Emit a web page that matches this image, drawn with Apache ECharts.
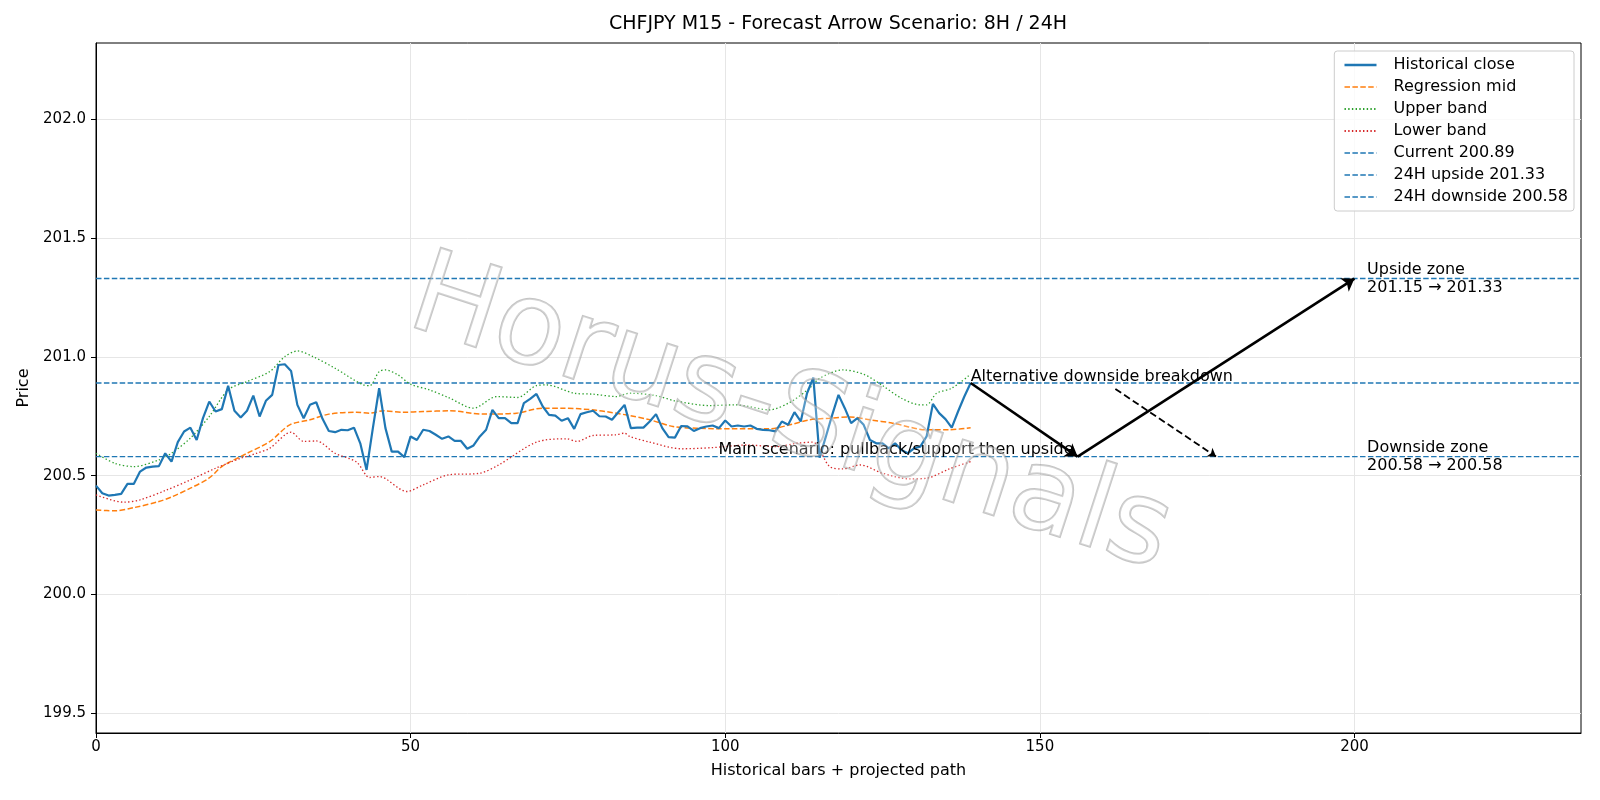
<!DOCTYPE html>
<html>
<head>
<meta charset="utf-8">
<script src="https://cdn.jsdelivr.net/npm/echarts@6/dist/echarts.min.js"></script>
<style>
  html, body { margin: 0; padding: 0; background: #fff; }
  #main { width: 1600px; height: 800px; }
</style>
</head>
<body>
<div id="main"></div>
<script>
// 历史收盘价 (bar 0..139)
const closeVals = [
  200.458, 200.426, 200.416, 200.419, 200.423, 200.465, 200.465, 200.517, 200.534, 200.538,
  200.540, 200.594, 200.559, 200.641, 200.686, 200.702, 200.650, 200.742, 200.812, 200.770,
  200.780, 200.878, 200.773, 200.745, 200.773, 200.837, 200.749, 200.815, 200.840, 200.966,
  200.969, 200.941, 200.798, 200.742, 200.798, 200.809, 200.739, 200.688, 200.683, 200.693,
  200.691, 200.702, 200.636, 200.524, 200.700, 200.868, 200.700, 200.601, 200.601, 200.578,
  200.665, 200.650, 200.693, 200.688, 200.672, 200.655, 200.665, 200.646, 200.646, 200.613,
  200.627, 200.665, 200.693, 200.777, 200.742, 200.742, 200.721, 200.721, 200.805, 200.823,
  200.844, 200.791, 200.756, 200.753, 200.731, 200.742, 200.697, 200.759, 200.767, 200.773,
  200.750, 200.749, 200.735, 200.767, 200.798, 200.700, 200.702, 200.702, 200.728, 200.759,
  200.700, 200.662, 200.660, 200.709, 200.707, 200.688, 200.700, 200.707, 200.711, 200.700,
  200.732, 200.707, 200.711, 200.707, 200.711, 200.697, 200.693, 200.691, 200.686, 200.728,
  200.714, 200.767, 200.728, 200.847, 200.913, 200.576, 200.665, 200.756, 200.840, 200.784,
  200.721, 200.742, 200.714, 200.650, 200.636, 200.636, 200.615, 200.636, 200.608, 200.594,
  200.615, 200.622, 200.665, 200.802, 200.763, 200.738, 200.702, 200.770, 200.833, 200.890
];

// 回归中线 [bar, price]
const regMid = [
  [0, 200.355], [3, 200.352], [6, 200.365], [10, 200.391], [12, 200.41], [15, 200.447],
  [18, 200.49], [20, 200.538], [24, 200.594], [27.6, 200.643], [30.8, 200.714], [34, 200.735],
  [37, 200.759], [41.4, 200.767], [43.5, 200.763], [45.7, 200.773], [48.8, 200.767], [52, 200.77],
  [56.2, 200.773], [61.5, 200.759], [66.8, 200.763], [71, 200.784], [74.2, 200.784], [79.5, 200.775],
  [84.8, 200.753], [88, 200.735], [91.7, 200.707], [95.4, 200.700], [100.7, 200.697], [107.1, 200.697],
  [110.3, 200.714], [113.4, 200.735], [116.6, 200.742], [119.8, 200.747], [123, 200.735],
  [126.6, 200.721], [132, 200.693], [135.6, 200.693], [139, 200.702]
];

// 上轨
const upperBand = [
  [0, 200.594], [3, 200.552], [6, 200.538], [10, 200.566], [12, 200.594], [15, 200.658],
  [18, 200.749], [21, 200.861], [24, 200.896], [27.6, 200.938], [30, 201.001], [32, 201.025],
  [34.5, 201.001], [38, 200.952], [42.5, 200.882], [43.5, 200.879], [45, 200.938], [46, 200.945],
  [48, 200.924], [50, 200.885], [53, 200.861], [56, 200.829], [60, 200.784], [63.7, 200.833],
  [67, 200.829], [70, 200.879], [71.6, 200.882], [76, 200.847], [79, 200.843], [82.7, 200.833],
  [84.8, 200.847], [89, 200.837], [92, 200.815], [97.5, 200.795], [101.7, 200.798], [107, 200.777],
  [110.3, 200.809], [113.4, 200.868], [115, 200.910], [118.7, 200.945], [122, 200.927],
  [125, 200.879], [128, 200.826], [131, 200.798], [132, 200.798], [133.6, 200.847], [136, 200.868],
  [139, 200.927]
];

// 下轨
const lowerBand = [
  [0, 200.419], [4.4, 200.388], [7, 200.398], [11, 200.437], [15, 200.482], [19, 200.531],
  [23, 200.573], [25.5, 200.594], [27.6, 200.615], [31, 200.683], [33, 200.644], [35, 200.646],
  [38, 200.594], [41.4, 200.557], [43.5, 200.492], [45, 200.496], [49.4, 200.433], [52, 200.461],
  [56, 200.503], [61, 200.510], [64, 200.545], [70, 200.641], [74.8, 200.655], [76.4, 200.644],
  [79, 200.669], [82.7, 200.672], [84, 200.679], [84.8, 200.665], [88, 200.641], [93, 200.613],
  [98, 200.618], [103.4, 200.629], [108, 200.622], [111.3, 200.636], [113.9, 200.641],
  [116.6, 200.538], [118.7, 200.528], [121.4, 200.545], [125, 200.510], [129.3, 200.486],
  [132, 200.489], [135.6, 200.528], [139, 200.559]
];

// 关键价位
const currentPrice = 200.89;
const upside24h = 201.33;
const downside24h = 200.58;

// 预测路径
const mainPath = [[139, 200.89], [156, 200.58], [200, 201.33]];
const altPath = [[162, 200.865], [178, 200.58]];

// 刻度
const xTicks = [0, 50, 100, 150, 200];
const yTicks = [199.5, 200.0, 200.5, 201.0, 201.5, 202.0];
const xMax = 236;

const FONT = 'DejaVu Sans';
const blue = '#1f77b4';

const closePts = closeVals.map((v, i) => [i, v]);
const hline = v => [[0, v], [xMax, v]];

var chartDom = document.getElementById('main');
var myChart = echarts.init(chartDom);
var option;

option = {
    animation: false,
    backgroundColor: '#fff',
    title: {
        text: 'CHFJPY M15 - Forecast Arrow Scenario: 8H / 24H',
        left: 838,
        top: 15,
        padding: 0,
        textAlign: 'center',
        textStyle: { fontFamily: FONT, fontSize: 19, fontWeight: 'normal', color: '#000' }
    },
    legend: {
        orient: 'vertical',
        right: 26,
        top: 51,
        padding: [6, 6, 6, 9],
        itemWidth: 32,
        itemHeight: 16,
        itemGap: 6,
        borderColor: '#ccc',
        borderWidth: 1,
        borderRadius: 3,
        backgroundColor: 'rgba(255,255,255,0.8)',
        itemStyle: { opacity: 0 },
        textStyle: { fontFamily: FONT, fontSize: 16, lineHeight: 16, color: '#000', padding: [0, 0, 0, 12] },
        data: [
            { name: 'Historical close', lineStyle: { width: 2.4 } },
            { name: 'Regression mid', lineStyle: { width: 1.5 } },
            'Upper band', 'Lower band',
            { name: 'Current 200.89', lineStyle: { width: 1.4 } },
            { name: '24H upside 201.33', lineStyle: { width: 1.4 } },
            { name: '24H downside 200.58', lineStyle: { width: 1.4 } }
        ]
    },
    grid: {
        left: 96, right: 19, top: 43, bottom: 67,
        show: true, borderColor: '#000', borderWidth: 1
    },
    xAxis: {
        type: 'value',
        min: 0,
        max: xMax,
        name: 'Historical bars + projected path',
        nameLocation: 'middle',
        nameGap: 30,
        nameTextStyle: { fontFamily: FONT, fontSize: 16, color: '#000' },
        axisLine: { show: true, onZero: false, lineStyle: { color: '#000' } },
        axisTick: { show: true, length: 5, customValues: xTicks, lineStyle: { color: '#000' } },
        axisLabel: { customValues: xTicks, fontFamily: FONT, fontSize: 15, color: '#000', margin: 7 },
        splitLine: { show: true, lineStyle: { color: '#e6e6e6', width: 1 } }
    },
    yAxis: {
        type: 'value',
        min: 199.416,
        max: 202.322,
        name: 'Price',
        nameLocation: 'middle',
        nameGap: 62,
        nameTextStyle: { fontFamily: FONT, fontSize: 16, color: '#000' },
        axisLine: { show: true, onZero: false, lineStyle: { color: '#000' } },
        axisTick: { show: true, length: 5, customValues: yTicks, lineStyle: { color: '#000' } },
        axisLabel: {
            customValues: yTicks, fontFamily: FONT, fontSize: 15, color: '#000', margin: 10,
            formatter: v => v.toFixed(1)
        },
        splitLine: { show: true, lineStyle: { color: '#e6e6e6', width: 1 } }
    },
    series: [
        {
            name: 'Historical close', type: 'line', data: closePts, symbol: 'none', z: 5,
            lineStyle: { color: blue, width: 2.2 }, itemStyle: { color: blue }
        },
        {
            name: 'Regression mid', type: 'line', data: regMid, symbol: 'none', smooth: 0.3, z: 4,
            lineStyle: { color: '#ff7f0e', width: 1.5, type: [5.5, 2.4] }, itemStyle: { color: '#ff7f0e' }
        },
        {
            name: 'Upper band', type: 'line', data: upperBand, symbol: 'none', smooth: 0.3, z: 4,
            lineStyle: { color: '#2ca02c', width: 1.3, type: [1.4, 2.3] }, itemStyle: { color: '#2ca02c' }
        },
        {
            name: 'Lower band', type: 'line', data: lowerBand, symbol: 'none', smooth: 0.3, z: 4,
            lineStyle: { color: '#d62728', width: 1.3, type: [1.4, 2.3] }, itemStyle: { color: '#d62728' }
        },
        {
            name: 'Current 200.89', type: 'line', data: hline(currentPrice), symbol: 'none', z: 3,
            lineStyle: { color: blue, width: 1.4, type: [5.5, 2.4] }, itemStyle: { color: blue }
        },
        {
            name: '24H upside 201.33', type: 'line', data: hline(upside24h), symbol: 'none', z: 3,
            lineStyle: { color: blue, width: 1.4, type: [5.5, 2.4] }, itemStyle: { color: blue }
        },
        {
            name: '24H downside 200.58', type: 'line', data: hline(downside24h), symbol: 'none', z: 3,
            lineStyle: { color: blue, width: 1.4, type: [5.5, 2.4] }, itemStyle: { color: blue }
        },
        {
            // 主情景箭头
            type: 'lines', coordinateSystem: 'cartesian2d', z: 6,
            symbol: ['none', 'arrow'], symbolSize: 12,
            lineStyle: { color: '#000', width: 2.6, opacity: 1 },
            data: [
                { coords: [mainPath[0], mainPath[1]] },
                { coords: [mainPath[1], mainPath[2]] }
            ]
        },
        {
            // 备选情景 (虚线)
            type: 'lines', coordinateSystem: 'cartesian2d', z: 6,
            symbol: ['none', 'arrow'], symbolSize: 8,
            lineStyle: { color: '#000', width: 1.8, type: [7, 3.5], opacity: 1 },
            data: [{ coords: altPath }]
        },
        {
            // 文字标注
            type: 'scatter', symbolSize: 0, z: 7, silent: true,
            itemStyle: { opacity: 1 },
            label: { show: true, fontFamily: FONT, fontSize: 16, color: '#000', lineHeight: 18 },
            data: [
                {
                    value: [156, downside24h],
                    label: { formatter: 'Main scenario: pullback/support then upside', position: [0, 0], align: 'right', verticalAlign: 'bottom', offset: [-4, 2], color: '#000' }
                },
                {
                    value: [139, currentPrice],
                    label: { formatter: 'Alternative downside breakdown', position: [0, 0], align: 'left', verticalAlign: 'bottom', offset: [0, 3], color: '#000' }
                },
                {
                    value: [202, upside24h],
                    label: { formatter: 'Upside zone\n201.15 → 201.33', position: [0, 0], align: 'left', verticalAlign: 'middle', color: '#000' }
                },
                {
                    value: [202, downside24h],
                    label: { formatter: 'Downside zone\n200.58 → 200.58', position: [0, 0], align: 'left', verticalAlign: 'middle', color: '#000' }
                }
            ]
        }
    ],
    graphic: [
        {
            // 水印
            type: 'text',
            x: 790,
            y: 418,
            rotation: -18 * Math.PI / 180,
            silent: true,
            z: 100,
            style: {
                text: 'Horus-Signals',
                font: '115px "DejaVu Sans"',
                fill: 'rgba(255,255,255,0.25)',
                stroke: 'rgba(150,150,150,0.55)',
                lineWidth: 2,
                textAlign: 'center',
                textVerticalAlign: 'middle',
                shadowColor: 'rgba(0,0,0,0.2)',
                shadowOffsetX: 4,
                shadowOffsetY: 4,
                shadowBlur: 2
            }
        }
    ]
};

option && myChart.setOption(option);
</script>
</body>
</html>
